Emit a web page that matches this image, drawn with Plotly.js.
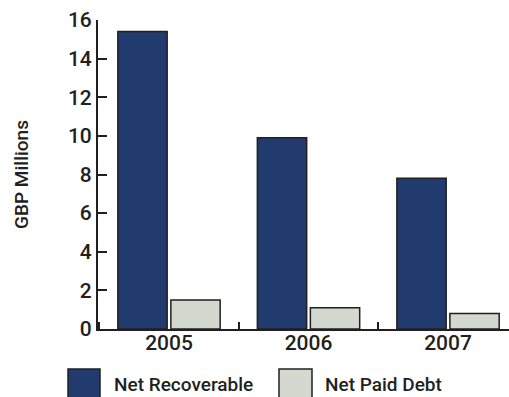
<!DOCTYPE html>
<html>
<head>
<meta charset="utf-8">
<script src="https://cdn.plot.ly/plotly-3.0.1.min.js"></script>
<style>
html,body{margin:0;padding:0;background:#fff;}
#chart{width:509px;height:397px;}
</style>
</head>
<body>
<div id="chart"></div>
<script>
const categories = ['2005', '2006', '2007'];
const seriesNames = ['Net Recoverable', 'Net Paid Debt'];
const netRecoverable = [15.4, 9.9, 7.8];
const netPaidDebt = [1.5, 1.1, 0.8];
const yTickValues = [0, 2, 4, 6, 8, 10, 12, 14, 16];

const FONT = 'Roboto, "Liberation Sans", sans-serif';
const INK = '#231f20';
const colors = ['#213b6f', '#d3d9cf'];

const W = 509, H = 397;
const M = {l: 98, r: 0, t: 20, b: 68};
const PW = W - M.l - M.r, PH = H - M.t - M.b;
const px = x => (x - M.l) / PW;
const py = y => (H - M.b - y) / PH;

const traces = [netRecoverable, netPaidDebt].map((vals, i) => ({
  type: 'bar',
  name: seriesNames[i],
  x: categories,
  y: vals,
  marker: {color: colors[i], line: {color: INK, width: 1.5}},
  hoverinfo: 'skip'
}));

const legendBoxes = [[68, 100], [279, 312]];
const legendTextX = [112, 323];
const shapes = [];
const annotations = [];
seriesNames.forEach((n, i) => {
  shapes.push({
    type: 'rect', xref: 'paper', yref: 'paper',
    x0: px(legendBoxes[i][0]), x1: px(legendBoxes[i][1]),
    y0: py(369), y1: py(405),
    fillcolor: colors[i], line: {color: INK, width: 1.5}
  });
  annotations.push({
    xref: 'paper', yref: 'paper', x: px(legendTextX[i]), y: py(384),
    xanchor: 'left', yanchor: 'middle', showarrow: false,
    text: n, font: {family: FONT, size: 19, weight: 500, color: INK}
  });
});

const tf = {family: FONT, size: 21, weight: 500, color: INK};

const layout = {
  width: W, height: H,
  margin: M,
  paper_bgcolor: '#fff', plot_bgcolor: '#fff',
  font: tf,
  showlegend: false,
  barmode: 'group',
  bargap: 0.24,
  bargroupgap: 0.07,
  xaxis: {
    type: 'category',
    range: [-0.509, 2.437],
    showline: true, linecolor: INK, linewidth: 2,
    ticks: 'inside', tickson: 'boundaries', ticklen: 7, tickwidth: 2, tickcolor: INK,
    showgrid: false, zeroline: false,
    tickfont: tf,
    ticklabelstandoff: -6,
    fixedrange: true
  },
  yaxis: {
    range: [0, 16],
    tickvals: yTickValues,
    ticktext: yTickValues.map(String),
    showline: true, linecolor: INK, linewidth: 2,
    ticks: 'inside', ticklen: 9, tickwidth: 2, tickcolor: INK,
    showgrid: false, zeroline: false,
    tickfont: tf,
    title: {text: 'GBP Millions', font: {family: FONT, size: 19, weight: 500, color: INK}, standoff: 34},
    fixedrange: true
  },
  shapes: shapes,
  annotations: annotations
};

Plotly.newPlot('chart', traces, layout, {staticPlot: true, displayModeBar: false});
</script>
</body>
</html>
